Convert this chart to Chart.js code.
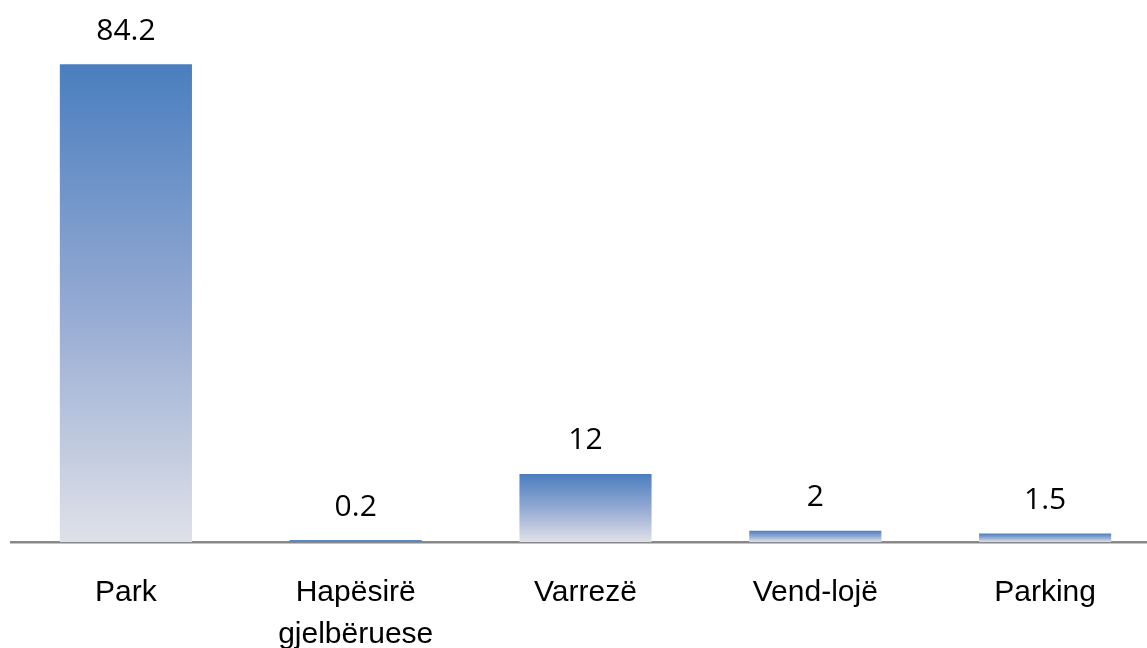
<!DOCTYPE html>
<html>
<head>
<meta charset="utf-8">
<script src="https://cdn.jsdelivr.net/npm/chart.js@4.4.1/dist/chart.umd.min.js"></script>
<style>
  html, body { margin: 0; padding: 0; background: #fff; overflow: hidden; }
</style>
</head>
<body>
<canvas id="myChart" width="1160" height="648"></canvas>
<script>
const categories = ["Park", ["Hapësirë", "gjelbëruese"], "Varrezë", "Vend-lojë", "Parking"];
const values = [84.2, 0.2, 12, 2, 1.5];
const valueLabels = ["84.2", "0.2", "12", "2", "1.5"];

const ctx = document.getElementById("myChart");

// each bar gets its own gradient, blue on top fading to grey at the base
function barGradient(context) {
  const chart = context.chart;
  const y = chart.scales.y;
  if (!y || context.dataIndex === undefined) return "#4f81bd";
  const top = y.getPixelForValue(values[context.dataIndex]);
  const bottom = y.getPixelForValue(0);
  if (!isFinite(top) || !isFinite(bottom) || bottom - top < 3) return "#5a87c6";
  const g = chart.ctx.createLinearGradient(0, top, 0, bottom);
  g.addColorStop(0, "#4a7ebf");
  g.addColorStop(0.5, "#93a9d2");
  g.addColorStop(1, "#dfe1e8");
  return g;
}

const valueLabelPlugin = {
  id: "valueLabels",
  afterDatasetsDraw(chart) {
    const c = chart.ctx;
    const meta = chart.getDatasetMeta(0);
    c.save();
    c.font = "30px 'Open Sans'";
    c.fillStyle = "#000";
    c.textAlign = "center";
    c.textBaseline = "bottom";
    meta.data.forEach(function (bar, i) {
      c.fillText(valueLabels[i], bar.x, bar.y - 18);
    });
    c.restore();
  },
};

new Chart(ctx, {
  type: "bar",
  data: {
    labels: categories,
    datasets: [
      {
        data: values,
        backgroundColor: barGradient,
        borderWidth: 0,
        categoryPercentage: 1,
        barPercentage: 0.575,
        minBarLength: 2,
      },
    ],
  },
  options: {
    responsive: false,
    animation: false,
    layout: { padding: { left: 11, right: 0, top: 3, bottom: 0 } },
    plugins: {
      legend: { display: false },
      tooltip: { enabled: false },
    },
    scales: {
      x: {
        grid: { display: false },
        border: { display: true, color: "#888888", width: 2.5 },
        ticks: {
          color: "#000",
          font: { family: "'Liberation Sans', Arial", size: 30, lineHeight: 1.4 },
          padding: 22,
          maxRotation: 0,
          autoSkip: false,
        },
        afterFit(scale) {
          scale.height = 106;
        },
      },
      y: {
        display: false,
        min: 0,
        max: 95,
      },
    },
  },
  plugins: [valueLabelPlugin],
});
</script>
</body>
</html>
